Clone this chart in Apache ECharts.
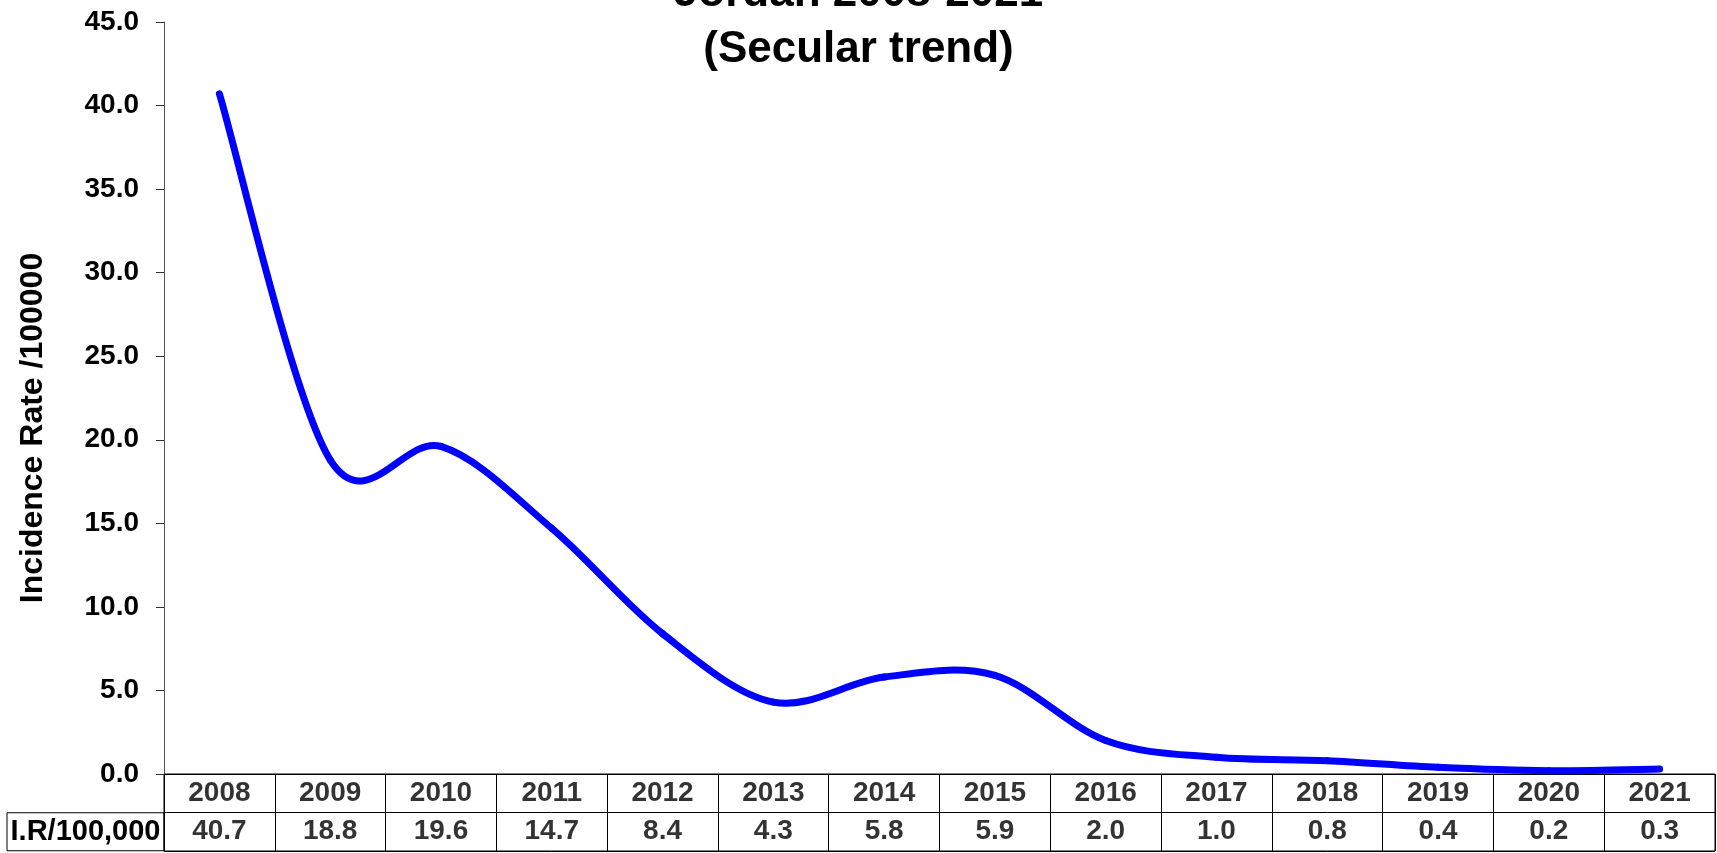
<!DOCTYPE html>
<html>
<head>
<meta charset="utf-8">
<script src="https://cdn.jsdelivr.net/npm/echarts@6/dist/echarts.min.js"></script>
<style>
html,body{margin:0;padding:0;background:#fff;}
#chart{width:1717px;height:853px;}
</style>
</head>
<body>
<div id="chart"></div>
<script>
// ---- data ----
const years = ['2008','2009','2010','2011','2012','2013','2014','2015','2016','2017','2018','2019','2020','2021'];
const rates = [40.7, 18.8, 19.6, 14.7, 8.4, 4.3, 5.8, 5.9, 2.0, 1.0, 0.8, 0.4, 0.2, 0.3];
const yTicks = { min: 0, max: 45, interval: 5 };
const titleLines = ['Jordan 2008-2021', '(Secular trend)'];
const yAxisTitle = 'Incidence Rate /100000';
const rowHeader = 'I.R/100,000';

const FONT = '"Liberation Sans", Arial, sans-serif';
const chart = echarts.init(document.getElementById('chart'));

const tableData = [];
years.forEach((y, i) => {
  tableData.push({ value: [y, 'yr'], txt: y });
  tableData.push({ value: [y, 'val'], txt: rates[i].toFixed(1) });
});

// smoothed line (Catmull-Rom style Bezier, like spreadsheet "smoothed line"),
// each segment placed through the axes with api.coord
function renderSmooth(params, api) {
  const i = params.dataIndex;
  const n = rates.length;
  if (i >= n - 1) return null;
  const pt = k => {
    const j = Math.max(0, Math.min(n - 1, k));
    return api.coord([j, rates[j]]);
  };
  const p0 = pt(i - 1), p1 = pt(i), p2 = pt(i + 1), p3 = pt(i + 2);
  const t = 1 / 6;
  return {
    type: 'bezierCurve',
    shape: {
      x1: p1[0], y1: p1[1], x2: p2[0], y2: p2[1],
      cpx1: p1[0] + (p2[0] - p0[0]) * t, cpy1: p1[1] + (p2[1] - p0[1]) * t,
      cpx2: p2[0] - (p3[0] - p1[0]) * t, cpy2: p2[1] - (p3[1] - p1[1]) * t
    },
    style: { stroke: '#0000ff', lineWidth: 7, fill: 'none', lineCap: 'round', lineJoin: 'round' },
    silent: true
  };
}

chart.setOption({
  animation: false,
  backgroundColor: '#fff',
  title: {
    text: titleLines.join('\n'),
    left: 'center',
    top: -34,
    padding: 0,
    textStyle: { fontFamily: FONT, fontWeight: 'bold', fontSize: 44, lineHeight: 56, color: '#000' }
  },
  graphic: [{
    type: 'text',
    x: 33, y: 428,
    rotation: Math.PI / 2,
    style: {
      text: yAxisTitle,
      font: 'bold 32px ' + FONT,
      fill: '#000',
      textAlign: 'center',
      textVerticalAlign: 'middle'
    }
  }],
  grid: [
    { left: 164, right: 2, top: 22, bottom: 79 },
    { left: 164, right: 2, top: 774, height: 77, show: true, borderColor: '#000', borderWidth: 1, backgroundColor: 'transparent' }
  ],
  xAxis: [
    {
      gridIndex: 0, type: 'category', data: years, boundaryGap: true,
      axisLine: { show: true, lineStyle: { color: '#000', width: 1 } },
      axisTick: { show: false }, axisLabel: { show: false }, splitLine: { show: false }
    },
    {
      gridIndex: 1, type: 'category', data: years, boundaryGap: true,
      axisLine: { show: false }, axisTick: { show: false }, axisLabel: { show: false },
      splitLine: { show: true, interval: 0, lineStyle: { color: '#000', width: 1 } }
    }
  ],
  yAxis: [
    {
      gridIndex: 0, type: 'value', min: yTicks.min, max: yTicks.max, interval: yTicks.interval,
      axisLine: { show: true, lineStyle: { color: '#555', width: 1 } },
      axisTick: { show: true, inside: false, length: 8, lineStyle: { color: '#333' } },
      axisLabel: { margin: 25, fontFamily: FONT, fontWeight: 'bold', fontSize: 28, color: '#000',
        formatter: v => v.toFixed(1) },
      splitLine: { show: false }
    },
    {
      gridIndex: 1, type: 'category', data: ['val', 'yr'],
      axisLine: { show: false }, axisTick: { show: false },
      splitLine: { show: true, interval: 0, lineStyle: { color: '#000', width: 1 } },
      axisLabel: {
        margin: 0, interval: 0,
        formatter: v => v === 'val' ? '{box|' + rowHeader + '}' : '',
        rich: {
          box: {
            width: 157, height: 38, lineHeight: 38, align: 'center',
            borderColor: '#000', borderWidth: 1,
            fontFamily: FONT, fontWeight: 'bold', fontSize: 29, color: '#000'
          }
        }
      }
    }
  ],
  series: [
    {
      type: 'custom', xAxisIndex: 0, yAxisIndex: 0,
      data: rates.map((r, i) => [i, r]),
      renderItem: renderSmooth,
      silent: true
    },
    {
      type: 'scatter', xAxisIndex: 1, yAxisIndex: 1, symbolSize: 0, silent: true,
      data: tableData,
      label: {
        show: true, position: 'inside',
        formatter: p => p.data.txt,
        fontFamily: FONT, fontWeight: 'bold', fontSize: 28, color: '#000'
      }
    }
  ]
});
</script>
</body>
</html>
